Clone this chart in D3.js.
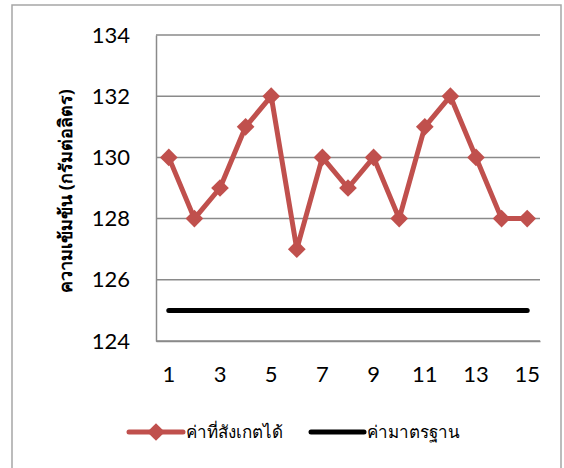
<!DOCTYPE html>
<html>
<head>
<meta charset="utf-8">
<script src="https://cdn.jsdelivr.net/npm/d3@7"></script>
<style>
  html, body { margin: 0; padding: 0; background: #fff; }
  svg { display: block; }
</style>
</head>
<body>
<svg id="chart" width="564" height="468"></svg>
<script>
// Sample index along the x axis
const samples = [1, 2, 3, 4, 5, 6, 7, 8, 9, 10, 11, 12, 13, 14, 15];
// Observed concentration (g/L)
const observed = [130, 128, 129, 131, 132, 127, 130, 129, 130, 128, 131, 132, 130, 128, 128];
// Standard concentration (g/L)
const standard = [125, 125, 125, 125, 125, 125, 125, 125, 125, 125, 125, 125, 125, 125, 125];
const yTicks = [124, 126, 128, 130, 132, 134];
const xTickLabels = [1, 3, 5, 7, 9, 11, 13, 15];
const seriesNames = ["ค่าที่สังเกตได้", "ค่ามาตรฐาน"];
const yTitle = "ความเข้มข้น (กรัมต่อลิตร)";

const svg = d3.select("#chart");
const font = "Lato, 'Open Sans', sans-serif";
const thaiFont = "'Noto Sans', 'DejaVu Sans', sans-serif";
const red = "#C0504D";
const grid = "#8a8a8a";

// outer frame
svg.append("rect")
  .attr("x", 12).attr("y", 5).attr("width", 549).attr("height", 470)
  .attr("fill", "none").attr("stroke", "#a6a6a6").attr("stroke-width", 1.5);

const plot = { left: 156, right: 540, top: 35, bottom: 341 };

const x = d3.scaleBand().domain(samples).range([plot.left, plot.right]);
const y = d3.scaleLinear().domain([124, 134]).range([plot.bottom, plot.top]);
const cx = d => x(d) + x.bandwidth() / 2;

// horizontal gridlines
svg.append("g").selectAll("line").data(yTicks).join("line")
  .attr("x1", plot.left).attr("x2", plot.right)
  .attr("y1", d => y(d)).attr("y2", d => y(d))
  .attr("stroke", grid).attr("stroke-width", 1.5);

// axes
const yAxis = svg.append("g")
  .attr("transform", `translate(${plot.left},0)`)
  .call(d3.axisLeft(y).tickValues(yTicks).tickSize(0).tickPadding(26));
yAxis.select(".domain").attr("stroke", grid).attr("stroke-width", 1.5);
yAxis.selectAll("text").attr("font-family", font).attr("font-size", 22).attr("fill", "#000");

const xAxis = svg.append("g")
  .attr("transform", `translate(0,${plot.bottom})`)
  .call(d3.axisBottom(x).tickValues(xTickLabels).tickSize(0).tickPadding(25));
xAxis.select(".domain").attr("stroke", grid).attr("stroke-width", 1.5);
xAxis.selectAll("text").attr("font-family", font).attr("font-size", 22).attr("fill", "#000");

// y axis title
svg.append("text")
  .attr("transform", `translate(72,191) rotate(-90)`)
  .attr("text-anchor", "middle")
  .attr("font-family", thaiFont).attr("font-size", 18).attr("font-weight", "bold")
  .text(yTitle);

// standard line
svg.append("path")
  .datum(standard)
  .attr("fill", "none").attr("stroke", "#000").attr("stroke-width", 5)
  .attr("stroke-linecap", "round").attr("stroke-linejoin", "round")
  .attr("d", d3.line().x((d, i) => cx(samples[i])).y(d => y(d)));

// observed line with diamond markers
svg.append("path")
  .datum(observed)
  .attr("fill", "none").attr("stroke", red).attr("stroke-width", 5)
  .attr("stroke-linejoin", "round")
  .attr("d", d3.line().x((d, i) => cx(samples[i])).y(d => y(d)));

const diamond = d3.symbol().type(d3.symbolDiamond2).size(200);
svg.append("g").selectAll("path").data(observed).join("path")
  .attr("transform", (d, i) => `translate(${cx(samples[i])},${y(d)})`)
  .attr("d", diamond).attr("fill", red);

// legend
const ly = 432;
const lg = svg.append("g");
lg.append("line").attr("x1", 129).attr("x2", 183).attr("y1", ly).attr("y2", ly)
  .attr("stroke", red).attr("stroke-width", 5).attr("stroke-linecap", "round");
lg.append("path").attr("transform", `translate(156,${ly})`).attr("d", diamond).attr("fill", red);
lg.append("text").attr("x", 186).attr("y", ly + 6)
  .attr("font-family", thaiFont).attr("font-size", 17).text(seriesNames[0]);
lg.append("line").attr("x1", 311).attr("x2", 364).attr("y1", ly).attr("y2", ly)
  .attr("stroke", "#000").attr("stroke-width", 5).attr("stroke-linecap", "round");
lg.append("text").attr("x", 367).attr("y", ly + 6)
  .attr("font-family", thaiFont).attr("font-size", 17).text(seriesNames[1]);
</script>
</body>
</html>
